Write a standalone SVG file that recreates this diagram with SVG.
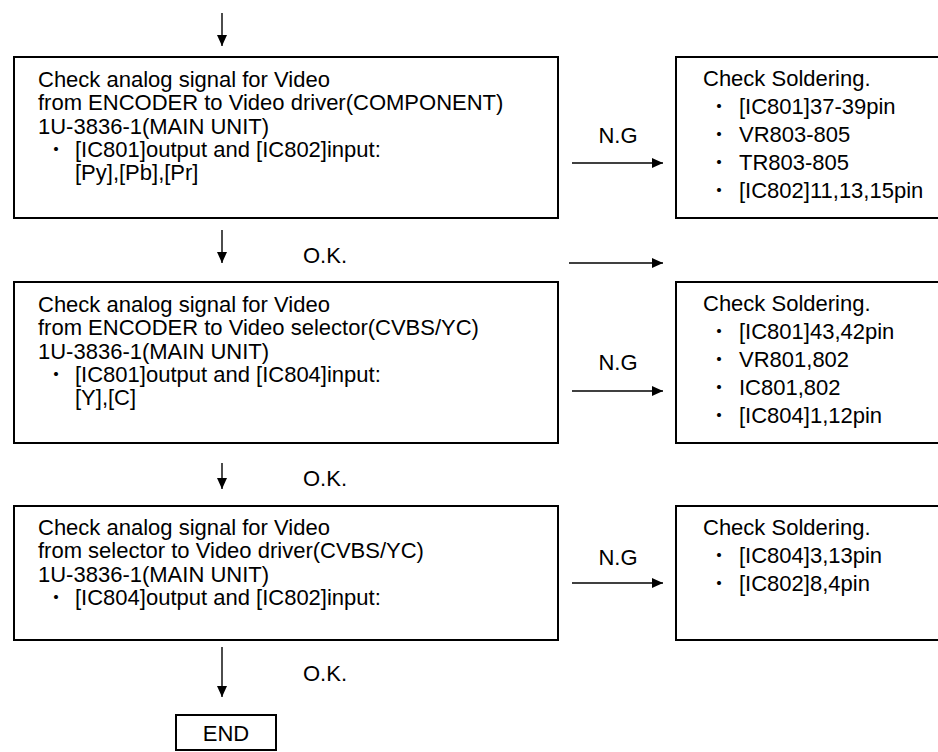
<svg xmlns="http://www.w3.org/2000/svg" width="938" height="752" viewBox="0 0 938 752">
<defs>
<marker id="ah" markerUnits="userSpaceOnUse" markerWidth="12" markerHeight="10" refX="11" refY="5" orient="auto">
<path d="M0,0 L11,5 L0,10 Z" fill="#000"/>
</marker>
<style>
.box{fill:#fff;stroke:#000;stroke-width:2}
.t{font-family:"Liberation Sans",Arial,sans-serif;font-size:22px;fill:#000}
.b{font-family:"Noto Sans CJK JP",sans-serif;font-size:19px}
.c{stroke:#000;stroke-width:1.4;fill:none;marker-end:url(#ah)}
</style>
</defs>
<rect width="938" height="752" fill="#fff"/>
<g id="connectors">
<line class="c" x1="222" y1="13" x2="222" y2="46"/>
<line class="c" x1="222" y1="230" x2="222" y2="263"/>
<line class="c" x1="222" y1="463" x2="222" y2="489"/>
<line class="c" x1="222" y1="647" x2="222" y2="697"/>
<line class="c" x1="572" y1="163" x2="663" y2="163"/>
<line class="c" x1="569" y1="263" x2="663" y2="263"/>
<line class="c" x1="572" y1="391" x2="663" y2="391"/>
<line class="c" x1="572" y1="583" x2="663" y2="583"/>
<text class="t" x="303" y="263">O.K.</text>
<text class="t" x="303" y="486">O.K.</text>
<text class="t" x="303" y="681">O.K.</text>
<text class="t" x="618" y="143" text-anchor="middle">N.G</text>
<text class="t" x="618" y="370" text-anchor="middle">N.G</text>
<text class="t" x="618" y="565" text-anchor="middle">N.G</text>
</g>
<g id="check1">
<rect class="box" x="14" y="57" width="544" height="161"/>
<text class="t" x="38" y="87">Check analog signal for Video</text>
<text class="t" x="38" y="110">from ENCODER to Video driver(COMPONENT)</text>
<text class="t" x="38" y="133.5">1U-3836-1(MAIN UNIT)</text>
<text class="t" y="157"><tspan class="b" x="46.5">・</tspan><tspan x="75">[IC801]output and [IC802]input:</tspan></text>
<text class="t" x="75" y="180">[Py],[Pb],[Pr]</text>
</g>
<g id="solder1">
<rect class="box" x="676" y="57" width="272" height="161"/>
<text class="t" x="703" y="86">Check Soldering.</text>
<text class="t" y="114"><tspan class="b" x="709.5">・</tspan><tspan x="739">[IC801]37-39pin</tspan></text>
<text class="t" y="142"><tspan class="b" x="709.5">・</tspan><tspan x="739">VR803-805</tspan></text>
<text class="t" y="170"><tspan class="b" x="709.5">・</tspan><tspan x="739">TR803-805</tspan></text>
<text class="t" y="198"><tspan class="b" x="709.5">・</tspan><tspan x="739">[IC802]11,13,15pin</tspan></text>
</g>
<g id="check2">
<rect class="box" x="14" y="282" width="544" height="161"/>
<text class="t" x="38" y="312">Check analog signal for Video</text>
<text class="t" x="38" y="335">from ENCODER to Video selector(CVBS/YC)</text>
<text class="t" x="38" y="358.5">1U-3836-1(MAIN UNIT)</text>
<text class="t" y="382"><tspan class="b" x="46.5">・</tspan><tspan x="75">[IC801]output and [IC804]input:</tspan></text>
<text class="t" x="75" y="405">[Y],[C]</text>
</g>
<g id="solder2">
<rect class="box" x="676" y="282" width="272" height="161"/>
<text class="t" x="703" y="311">Check Soldering.</text>
<text class="t" y="339"><tspan class="b" x="709.5">・</tspan><tspan x="739">[IC801]43,42pin</tspan></text>
<text class="t" y="367"><tspan class="b" x="709.5">・</tspan><tspan x="739">VR801,802</tspan></text>
<text class="t" y="395"><tspan class="b" x="709.5">・</tspan><tspan x="739">IC801,802</tspan></text>
<text class="t" y="423"><tspan class="b" x="709.5">・</tspan><tspan x="739">[IC804]1,12pin</tspan></text>
</g>
<g id="check3">
<rect class="box" x="14" y="506" width="544" height="134"/>
<text class="t" x="38" y="535">Check analog signal for Video</text>
<text class="t" x="38" y="558">from selector to Video driver(CVBS/YC)</text>
<text class="t" x="38" y="581.5">1U-3836-1(MAIN UNIT)</text>
<text class="t" y="605"><tspan class="b" x="46.5">・</tspan><tspan x="75">[IC804]output and [IC802]input:</tspan></text>
</g>
<g id="solder3">
<rect class="box" x="676" y="506" width="272" height="134"/>
<text class="t" x="703" y="535">Check Soldering.</text>
<text class="t" y="563"><tspan class="b" x="709.5">・</tspan><tspan x="739">[IC804]3,13pin</tspan></text>
<text class="t" y="591"><tspan class="b" x="709.5">・</tspan><tspan x="739">[IC802]8,4pin</tspan></text>
</g>
<g id="end">
<rect class="box" x="176" y="715" width="100" height="35"/>
<text class="t" x="226" y="741" text-anchor="middle">END</text>
</g>
</svg>
